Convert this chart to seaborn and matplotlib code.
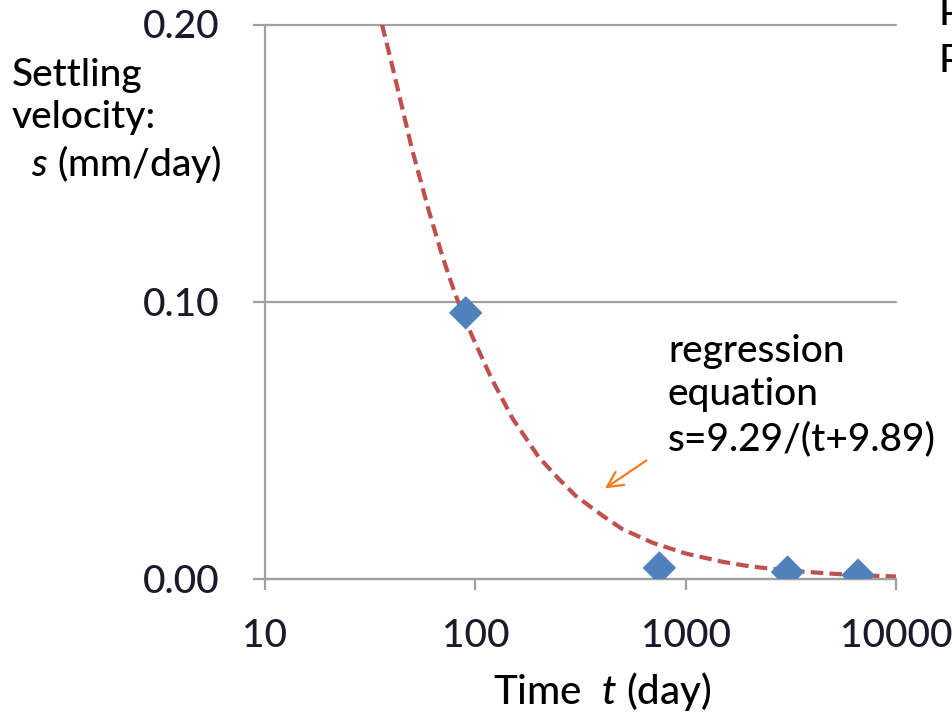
import matplotlib
matplotlib.use("Agg")
import matplotlib.pyplot as plt
from matplotlib.ticker import NullLocator, FixedLocator
import seaborn as sns
import pandas as pd

# ---- data ----
time_obs = [90, 750, 3050, 6600]
velocity_obs = [0.096, 0.004, 0.0025, 0.0014]

time_fit = [36, 40, 50, 60, 70, 80, 90, 100, 120, 150, 200, 250, 300, 400,
            500, 700, 1000, 1500, 2000, 3000, 5000, 7000, 10000]
velocity_fit = [0.200, 0.186, 0.155, 0.133, 0.116, 0.103, 0.093, 0.085, 0.072,
                0.058, 0.044, 0.036, 0.030, 0.023, 0.018, 0.013, 0.0092,
                0.0062, 0.0046, 0.0031, 0.0019, 0.0013, 0.0009]

x_ticks = [10, 100, 1000, 10000]
x_tick_labels = ["10", "100", "1000", "10000"]
y_ticks = [0.0, 0.1, 0.2]
y_tick_labels = ["0.00", "0.10", "0.20"]

y_label = "Settling\nvelocity:\n  $\\it{s}$ (mm/day)"
x_label = "Time  $\\it{t}$ (day)"
annotation = "regression\nequation\ns=9.29/(t+9.89)"

# ---- style ----
sns.set_theme(style="white")
plt.rcParams["font.family"] = ["Lato", "DejaVu Sans"]
plt.rcParams["font.weight"] = "medium"
plt.rcParams["mathtext.fontset"] = "custom"
plt.rcParams["mathtext.it"] = "Lato:italic:medium"
plt.rcParams["mathtext.rm"] = "Lato:medium"
plt.rcParams["mathtext.default"] = "regular"
plt.rcParams["xtick.bottom"] = True
plt.rcParams["ytick.left"] = True

W, H = 953, 726
fig = plt.figure(figsize=(W / 100, H / 100), dpi=100)
fig.patch.set_facecolor("white")
ax = fig.add_axes([265 / W, 1 - 579 / H, (896 - 265) / W, (579 - 24.5) / H])
ax.set_facecolor("white")
ax.set_xscale("log")

grid_col = "#a0a0a0"
fit_df = pd.DataFrame({"t": time_fit, "s": velocity_fit})
obs_df = pd.DataFrame({"t": time_obs, "s": velocity_obs})

sns.lineplot(data=fit_df, x="t", y="s", ax=ax, color="#c0504d", lw=3,
             sort=False, estimator=None, zorder=2)
ax.lines[-1].set_dashes((3.0, 1.5))
sns.scatterplot(data=obs_df, x="t", y="s", ax=ax, marker="D", s=290,
                color="#4f81bd", edgecolor="none", linewidth=0, zorder=3)

ax.set_xlim(10, 10000)
ax.set_ylim(0, 0.2)
ax.xaxis.set_major_locator(FixedLocator(x_ticks))
ax.xaxis.set_minor_locator(NullLocator())
ax.set_xticklabels(x_tick_labels)
ax.set_yticks(y_ticks)
ax.set_yticklabels(y_tick_labels)
ax.set_xlabel("")
ax.set_ylabel("")

for side in ["top", "right"]:
    ax.spines[side].set_visible(False)
for side in ["left", "bottom"]:
    ax.spines[side].set_color(grid_col)
    ax.spines[side].set_linewidth(1.6)

ax.yaxis.grid(True, color=grid_col, lw=1.6)
ax.xaxis.grid(False)
ax.set_axisbelow(True)
for gl in ax.get_ygridlines():
    gl.set_clip_on(False)

ax.tick_params(axis="x", which="major", bottom=True, direction="out",
               length=8, width=1.6, color=grid_col, pad=21, labelsize=28,
               labelcolor="#1a1a2a")
ax.tick_params(axis="y", which="major", left=True, direction="out",
               length=9, width=1.6, color=grid_col, pad=24, labelsize=28,
               labelcolor="#1a1a2a")

# labels
fig.text(12 / W, 1 - 58 / H, y_label, ha="left", va="top", fontsize=28,
         color="black", linespacing=1.25)
fig.text(602 / W, 1 - 704 / H, x_label, ha="center", va="baseline",
         fontsize=29, color="black")
fig.text(668 / W, 1 - 334 / H, annotation, ha="left", va="top", fontsize=28,
         color="black", linespacing=1.3)
fig.text(939 / W, 1 - 25 / H, "P", ha="left", va="baseline", fontsize=28,
         color="black")
fig.text(939 / W, 1 - 72 / H, "P", ha="left", va="baseline", fontsize=28,
         color="black")

ax.annotate("", xy=(403, 0.0321), xytext=(667, 0.0433),
            arrowprops=dict(arrowstyle="->", color="#f47a20", lw=1.6,
                            mutation_scale=28))

fig.savefig("out.png", dpi=100, facecolor="white")
